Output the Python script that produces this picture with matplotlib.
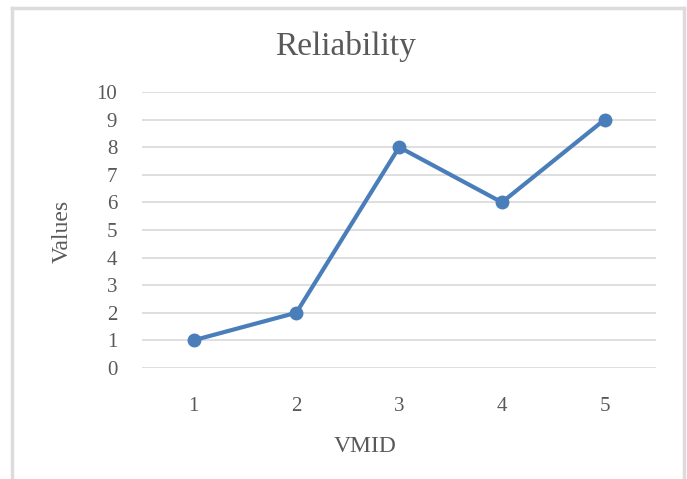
import matplotlib.pyplot as plt
from matplotlib.lines import Line2D

vmid = [1, 2, 3, 4, 5]
values = [1, 2, 8, 6, 9]
y_ticks = list(range(0, 11))

plt.rcParams['font.family'] = ['Liberation Serif', 'DejaVu Serif']
text_color = '#595959'
grid_color = '#d9d9d9'
line_color = '#4a7ebb'

fig = plt.figure(figsize=(6.87, 4.79), dpi=100)
ax = fig.add_axes([0.207, 0.232, 0.748, 0.576])

ax.plot(vmid, values, color=line_color, linewidth=3, marker='o',
        markersize=9, solid_joinstyle='round', zorder=3)

ax.set_xlim(0.5, 5.5)
ax.set_ylim(0, 10)
ax.set_xticks(vmid)
ax.set_yticks(y_ticks)
ax.yaxis.grid(True, color=grid_color, linewidth=1.2)
ax.set_axisbelow(True)
for s in ax.spines.values():
    s.set_visible(False)
ax.tick_params(axis='both', length=0, labelsize=15, labelcolor=text_color)
ax.tick_params(axis='x', pad=21)
ax.tick_params(axis='y', pad=18)

W, H = 687, 479
def fx(px):
    return px / W
def fy(py):
    return 1 - py / H

fig.text(fx(346), fy(46), 'Reliability', fontsize=24, color=text_color,
         ha='center', va='center')
fig.text(fx(365), fy(447), 'VMID', fontsize=17, color=text_color,
         ha='center', va='center')
fig.text(fx(62), fy(231), 'Values', fontsize=17, color=text_color,
         ha='center', va='center', rotation=90)

# light frame around the chart area (open at the bottom)
frame = dict(color='#dcdcdc', linewidth=2.5, transform=fig.transFigure)
fig.add_artist(Line2D([fx(11.5), fx(11.5)], [fy(8), 0], **frame))
fig.add_artist(Line2D([fx(11.5), fx(684)], [fy(8), fy(8)], **frame))
fig.add_artist(Line2D([fx(684), fx(684)], [fy(8), 0], **frame))

fig.savefig('out.png', dpi=100)
